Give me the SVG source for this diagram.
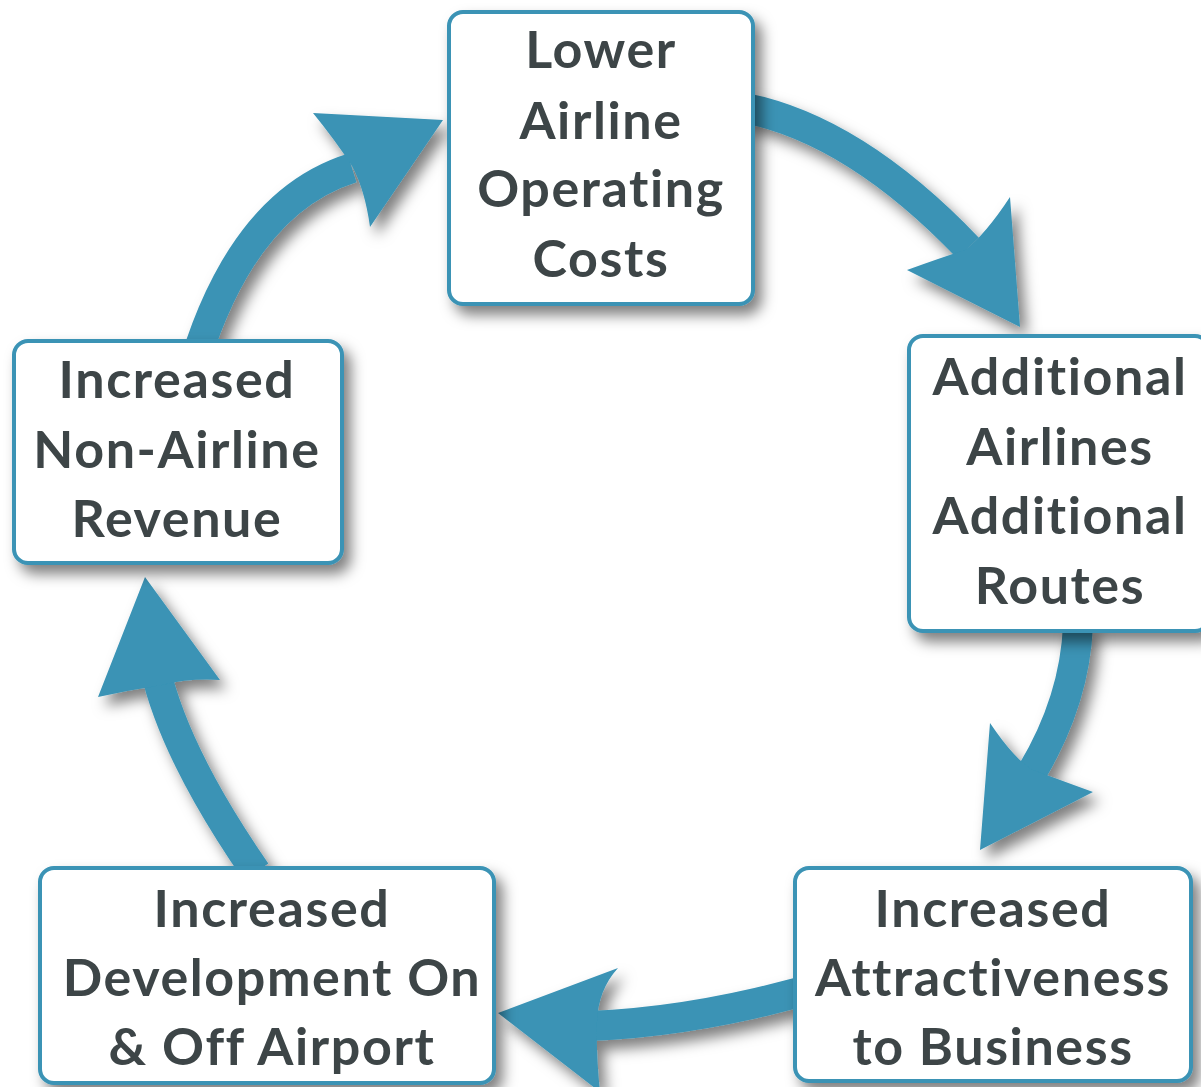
<svg xmlns="http://www.w3.org/2000/svg" width="1201" height="1087" viewBox="0 0 1201 1087">
<defs>
<filter id="sh" x="-20%" y="-20%" width="150%" height="150%">
<feDropShadow dx="7" dy="9" stdDeviation="7" flood-color="#000" flood-opacity="0.5"/>
</filter>
<style>
.box{fill:#fff;stroke:#3a93b5;stroke-width:4}
.lbl{font-family:Lato,"Open Sans","Liberation Sans",sans-serif;font-weight:bold;font-size:52px;letter-spacing:1.6px;fill:#3d4547;text-anchor:middle;font-variant-ligatures:none;font-feature-settings:"liga" 0,"clig" 0}
.body{fill:none;stroke:#3a93b5;stroke-width:30}
.head{fill:#3a93b5}
</style>
</defs>
<rect width="1201" height="1087" fill="#fff"/>
<g id="connectors" filter="url(#sh)">
<g id="a1"><path class="body" d="M745,108 Q855,130 968,248"/><path class="head" d="M1020,327 L1010,197 Q985,235 965,250 Q940,258 907,270 Z"/></g>
<g id="a2"><path class="body" d="M1078,625 Q1075,700 1032,772"/><path class="head" d="M980,850 L990,723 Q1015,760 1033,770 Q1060,780 1093,792 Z"/></g>
<g id="a3"><path class="body" d="M800,992 Q690,1022 590,1026"/><path class="head" d="M498,1013 L618,968 Q598,990 597,1022 Q596,1055 600,1092 Z"/></g>
<g id="a4"><path class="body" d="M256,872 Q180,762 158,680"/><path class="head" d="M145,577 L220,680 Q190,678 162,685 Q130,690 98,697 Z"/></g>
<g id="a5"><path class="body" d="M200,346 Q250,200 352,168"/><path class="head" d="M443,120 L370,227 Q365,190 352,166 Q335,140 313,113 Z"/></g>
</g>
<g id="n1"><rect class="box" x="449" y="12" width="304" height="292" rx="14" filter="url(#sh)"/>
<text class="lbl" x="601" y="68">Lower</text><text class="lbl" x="601" y="139">Airline</text><text class="lbl" x="601" y="207">Operating</text><text class="lbl" x="601" y="277">Costs</text></g>
<g id="n2"><rect class="box" x="909" y="336" width="300" height="295" rx="14" filter="url(#sh)"/>
<text class="lbl" x="1060" y="395">Additional</text><text class="lbl" x="1060" y="465">Airlines</text><text class="lbl" x="1060" y="534">Additional</text><text class="lbl" x="1060" y="604">Routes</text></g>
<g id="n3"><rect class="box" x="795" y="868" width="396" height="213" rx="14" filter="url(#sh)"/>
<text class="lbl" x="993" y="927">Increased</text><text class="lbl" x="993" y="996">Attractiveness</text><text class="lbl" x="993" y="1065">to Business</text></g>
<g id="n4"><rect class="box" x="40" y="868" width="454" height="215" rx="14" filter="url(#sh)"/>
<text class="lbl" x="272" y="927">Increased</text><text class="lbl" x="272" y="996">Development On</text><text class="lbl" x="272" y="1065">&amp; Off Airport</text></g>
<g id="n5"><rect class="box" x="14" y="341" width="328" height="222" rx="14" filter="url(#sh)"/>
<text class="lbl" x="177" y="398">Increased</text><text class="lbl" x="177" y="468">Non-Airline</text><text class="lbl" x="177" y="537">Revenue</text></g>
</svg>
